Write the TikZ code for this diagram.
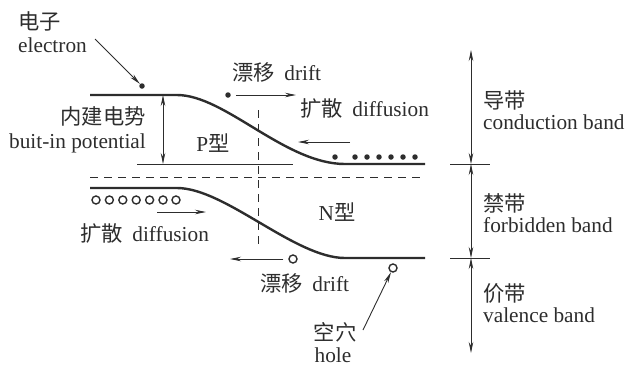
\documentclass[tikz,border=0pt]{standalone}
\usepackage{fontspec}
\setmainfont{Liberation Serif}
\newfontfamily\cjk{Noto Sans CJK SC}
\usetikzlibrary{arrows.meta}
\definecolor{ink}{RGB}{45,45,45}
\newcommand{\gapcl}{\hspace{0.45em}}
\begin{document}
\begin{tikzpicture}[x=1pt,y=-1pt,
  every path/.style={color=ink},
  band/.style={line width=2.4pt},
  thinln/.style={line width=0.9pt},
  arr/.style={thinln,-{Stealth[length=11pt,width=4.5pt]}},
  darr/.style={thinln,{Stealth[length=11pt,width=4.5pt]}-{Stealth[length=11pt,width=4.5pt]}},
  dsh/.style={thinln,dash pattern=on 8pt off 6pt},
  lbl/.style={inner sep=0pt,text=ink,font=\fontsize{21.3}{23}\selectfont},
  edot/.style={circle,fill=ink,inner sep=0pt,minimum size=5.5pt},
  hdot/.style={circle,draw=ink,line width=1.4pt,inner sep=0pt,minimum size=8pt}]
\useasboundingbox (0,0) rectangle (625,368);

% band lines
\draw[band] (90,95) -- (177,95) .. controls (225,95) and (285,164) .. (345,164) -- (425,164);
\draw[band] (90,188) -- (177,188) .. controls (225,188) and (295,258) .. (345,258) -- (425,258);

% reference lines
\coordinate (refL) at (137,164); \coordinate (refR) at (293,164);
\draw[thinln] (refL) -- (refR);
\coordinate (fermiL) at (90,177); \coordinate (fermiR) at (425,177);
\draw[dsh] (fermiL) -- (fermiR);
\coordinate (vdT) at (258,110); \coordinate (vdB) at (258,245);
\draw[dsh] (vdT) -- (vdB);

% built-in potential
\coordinate (bpT) at (163,95); \coordinate (bpB) at (163,164);
\draw[darr] (bpT) -- (bpB);
\node[lbl,anchor=east] (bi1) at (146,116) {\cjk 内建电势};
\node[lbl,anchor=east] (bi2) at (146,143) {buit-in potential};

% electron label
\node[lbl,anchor=west] (el1) at (18,21) {\cjk 电子};
\node[lbl,anchor=west] (el2) at (18,45) {electron};
\node[edot] (e0) at (142,86) {};
\coordinate (elS) at (95,39);
\draw[arr] (elS) -- (e0);

% electron drift
\node[edot] (e1) at (228,95) {};
\coordinate (edE) at (296,95);
\draw[arr] (e1.east) ++(5,0) coordinate (edS) (edS) -- (edE);
\node[lbl,anchor=west] (dr1) at (232,72) {{\cjk 漂移}\gapcl drift};

% electron diffusion
\node[lbl,anchor=west] (df1) at (300,108) {{\cjk 扩散}\gapcl diffusion};
\coordinate (edfS) at (350,142); \coordinate (edfE) at (298,142);
\draw[arr] (edfS) -- (edfE);
\node[edot] (n0) at (335,157) {};
\foreach \i in {0,...,5} \node[edot] (n\i x) at (355+12*\i,157) {};

% type labels
\node[lbl] (pt) at (213,143) {P{\cjk 型}};
\node[lbl] (nt) at (337,212) {N{\cjk 型}};

% holes diffusion
\foreach \i in {0,...,5} \node[hdot] (h\i) at (96+13.4*\i,200) {};
\node[hdot] (h6) at (176,200) {};
\coordinate (hdfS) at (157,212); \coordinate (hdfE) at (206,212);
\draw[arr] (hdfS) -- (hdfE);
\node[lbl,anchor=west] (df2) at (80,233) {{\cjk 扩散}\gapcl diffusion};

% hole drift
\node[hdot] (h7) at (293,259) {};
\coordinate (hdE) at (230,259);
\draw[arr] (h7.west) ++(-5,0) coordinate (hdS) (hdS) -- (hdE);
\node[lbl,anchor=west] (dr2) at (260,283) {{\cjk 漂移}\gapcl drift};

% hole label
\node[hdot] (h8) at (393,268) {};
\coordinate (hlS) at (363,330);
\draw[arr] (hlS) -- (h8);
\node[lbl] (hl1) at (335,332) {\cjk 空穴};
\node[lbl] (hl2) at (333,355) {hole};

% band scale
\coordinate (s0) at (471,50); \coordinate (s1) at (471,164);
\coordinate (s2) at (471,258); \coordinate (s3) at (471,353);
\draw[darr] (s0) -- (s1);
\draw[darr] (s1) -- (s2);
\draw[darr] (s2) -- (s3);
\coordinate (t1L) at (450,164); \coordinate (t1R) at (490,164);
\coordinate (t2L) at (450,258); \coordinate (t2R) at (490,258);
\draw[thinln] (t1L) -- (t1R);
\draw[thinln] (t2L) -- (t2R);
\node[lbl,anchor=west] (cb1) at (483,100) {\cjk 导带};
\node[lbl,anchor=west] (cb2) at (483,122) {conduction band};
\node[lbl,anchor=west] (fb1) at (483,203) {\cjk 禁带};
\node[lbl,anchor=west] (fb2) at (483,225) {forbidden band};
\node[lbl,anchor=west] (vb1) at (483,293) {\cjk 价带};
\node[lbl,anchor=west] (vb2) at (483,315) {valence band};
\end{tikzpicture}
\end{document}
